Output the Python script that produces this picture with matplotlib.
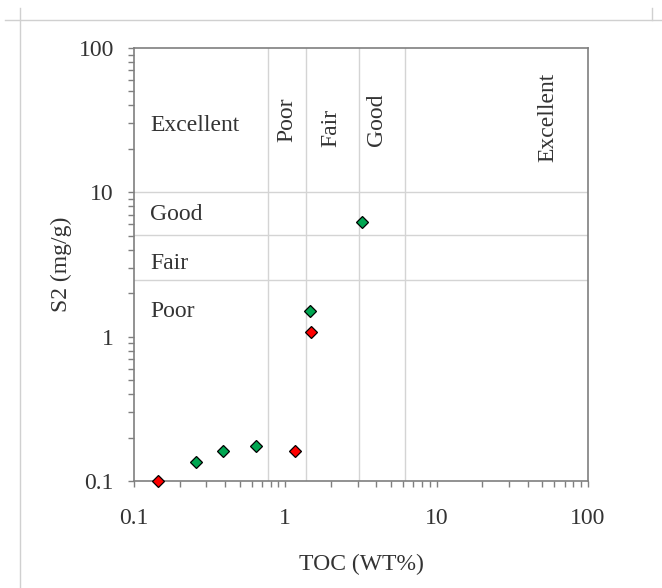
import matplotlib
matplotlib.use("Agg")
import matplotlib.pyplot as plt
from matplotlib.lines import Line2D
from matplotlib.ticker import LogLocator, FixedLocator, FixedFormatter, NullFormatter

# sample values
toc_green = [0.257, 0.386, 0.64, 1.46, 3.23]
s2_green = [0.135, 0.162, 0.174, 1.51, 6.2]
toc_red = [0.144, 1.15, 1.47]
s2_red = [0.1, 0.162, 1.08]

# classification boundaries
toc_bounds = [0.77, 1.37, 3.07, 6.2]
s2_bounds = [2.45, 5.1, 10]

tick_vals = [0.1, 1, 10, 100]
tick_labels = ["0.1", "1", "10", "100"]

plt.rcParams["font.family"] = ["Liberation Serif", "DejaVu Serif"]
txt_color = "#333333"

fig = plt.figure(figsize=(6.62, 5.88), dpi=100)
ax = fig.add_axes([134 / 662, 1 - 481 / 588, 454 / 662, 433 / 588])

ax.set_xscale("log")
ax.set_yscale("log")
ax.set_xlim(0.1, 100)
ax.set_ylim(0.1, 100)

# zone boundaries
for b in toc_bounds:
    ax.axvline(b, color="#d4d4d4", lw=1, zorder=1)
for b in s2_bounds:
    ax.axhline(b, color="#d4d4d4", lw=1, zorder=1)

ax.plot(toc_green, s2_green, "D", color="#00a651", mec="black", mew=0.9,
        ms=6, ls="none", zorder=3, clip_on=False)
ax.plot(toc_red, s2_red, "D", color="#ff0000", mec="black", mew=0.9,
        ms=6, ls="none", zorder=3, clip_on=False)

# zone labels
fs = 17
ax.text(0.128, 29, "Excellent", fontsize=fs, color=txt_color, va="center")
ax.text(0.128, 7.0, "Good", fontsize=fs, color=txt_color, va="center")
ax.text(0.128, 3.2, "Fair", fontsize=fs, color=txt_color, va="center")
ax.text(0.128, 1.5, "Poor", fontsize=fs, color=txt_color, va="center")
ax.text(1.02, 32, "Poor", fontsize=fs, color=txt_color, rotation=90,
        ha="center", va="center")
ax.text(1.99, 28, "Fair", fontsize=fs, color=txt_color, rotation=90,
        ha="center", va="center")
ax.text(4.0, 32, "Good", fontsize=fs, color=txt_color, rotation=90,
        ha="center", va="center")
ax.text(54, 33, "Excellent", fontsize=fs, color=txt_color, rotation=90,
        ha="center", va="center")

# axes styling
for side in ax.spines.values():
    side.set_color("#7f7f7f")
    side.set_linewidth(1.2)

for axis in (ax.xaxis, ax.yaxis):
    axis.set_major_locator(FixedLocator(tick_vals))
    axis.set_major_formatter(FixedFormatter(tick_labels))
    axis.set_minor_locator(LogLocator(base=10, subs=range(2, 10)))
    axis.set_minor_formatter(NullFormatter())

ax.tick_params(which="both", direction="out", length=4.5, width=1,
               color="#7f7f7f", labelsize=fs, labelcolor=txt_color)
ax.tick_params(axis="x", which="major", pad=15)
ax.tick_params(axis="y", which="major", pad=10)

ax.set_xlabel("TOC (WT%)", fontsize=fs, color=txt_color, labelpad=18)
ax.set_ylabel("S2 (mg/g)", fontsize=fs, color=txt_color, labelpad=5)

# page edge marks
pc = "#d0d0d0"
fig.add_artist(Line2D([5 / 662, 1], [1 - 20 / 588] * 2, color=pc, lw=1))
fig.add_artist(Line2D([19.5 / 662] * 2, [0, 1 - 8 / 588], color=pc, lw=1))
fig.add_artist(Line2D([652 / 662] * 2, [1 - 20 / 588, 1 - 8 / 588], color=pc, lw=1))

fig.savefig("out.png", dpi=100)
